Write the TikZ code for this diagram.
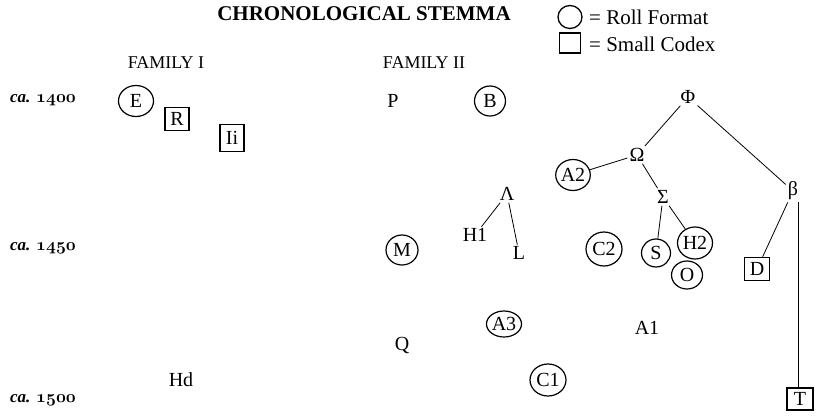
\documentclass[tikz,border=0pt]{standalone}
\usepackage{fontspec}
\setmainfont{Liberation Serif}
\usetikzlibrary{shapes.geometric}
\newcommand\osn[1]{{\fontencoding{OML}\fontfamily{cmm}\fontseries{b}\fontshape{it}\selectfont #1}}
\begin{document}
\begin{tikzpicture}[x=1pt,y=-1pt,
  lab/.style={font=\fontsize{20}{20}\selectfont, inner sep=1.5pt},
  roll/.style={lab, draw, ellipse, line width=1.2pt, inner sep=0pt, minimum width=34pt, minimum height=30pt},
  codex/.style={lab, draw, rectangle, line width=1.3pt, inner sep=0pt, minimum width=24pt, minimum height=23pt},
  greek/.style={lab, inner sep=2pt},
  edge/.style={line width=0.8pt},
  fam/.style={font=\fontsize{18}{18}\selectfont, inner sep=0pt},
  date/.style={font=\fontsize{17}{17}\selectfont\bfseries, inner sep=0pt, anchor=west},
  legtxt/.style={font=\fontsize{21}{21}\selectfont, inner sep=0pt, anchor=west}]
\useasboundingbox (0,0) rectangle (816,416);
% title and legend
\node[font=\fontsize{21}{21}\selectfont\bfseries, inner sep=0pt] (title) at (364,14) {CHRONOLOGICAL STEMMA};
\node[draw, ellipse, line width=1.3pt, minimum width=24pt, minimum height=23pt, inner sep=0pt] (legc) at (570,17) {};
\node[legtxt] (legct) at (589,17) {= Roll Format};
\node[draw, rectangle, line width=1.5pt, minimum width=21pt, minimum height=20pt, inner sep=0pt] (legs) at (570,43) {};
\node[legtxt] (legst) at (589,44) {= Small Codex};
\node[fam] (f1) at (166,63) {FAMILY I};
\node[fam] (f2) at (424,63) {FAMILY II};
% dates
\node[date] (d1) at (10,100) {\textit{ca.} \osn{1400}};
\node[date] (d2) at (10,248) {\textit{ca.} \osn{1450}};
\node[date] (d3) at (10,400) {\textit{ca.} \osn{1500}};
% family I
\node[roll, minimum width=35pt, minimum height=31pt] (E) at (136,101) {E};
\node[codex] (R) at (177,119) {R};
\node[codex, minimum height=27pt] (Ii) at (232,138) {Ii};
\node[lab] (Hd) at (181,380) {Hd};
% family II
\node[lab] (P) at (393,101) {P};
\node[roll, minimum width=31pt] (B) at (490,101) {B};
\node[roll, minimum width=32pt, minimum height=30pt] (M) at (402,250) {M};
\node[lab] (Q) at (402,345) {Q};
\node[greek] (Lam) at (507,194) {Λ};
\node[lab] (H1) at (475,235) {H1};
\node[lab] (L) at (519,253) {L};
\node[roll, minimum width=35pt, minimum height=26pt] (A3) at (504,324) {A3};
\node[roll, minimum width=36pt, minimum height=32pt] (C1) at (548,380) {C1};
\node[roll, minimum width=36pt, minimum height=34pt] (C2) at (604,249) {C2};
\node[lab] (A1) at (647,328) {A1};
\node[greek] (Phi) at (688,97) {Φ};
\node[greek] (Om) at (637,155) {Ω};
\node[roll, minimum width=34pt, minimum height=31pt] (A2) at (573,175) {A2};
\node[greek] (Sig) at (663,197) {Σ};
\node[roll, minimum width=29pt, minimum height=28pt] (S) at (656,253) {S};
\node[roll, minimum width=35pt, minimum height=32pt] (H2) at (695,243) {H2};
\node[roll, minimum width=31pt, minimum height=28pt] (O) at (687,275) {O};
\node[greek] (be) at (793,191) {β};
\node[codex, minimum width=25pt, minimum height=23pt] (D) at (757,269) {D};
\node[codex, minimum width=26pt, minimum height=22pt] (T) at (800,399) {T};
% connectors
\draw[edge] (Phi) -- (Om);
\draw[edge] (Phi) -- (be);
\draw[edge] (Om) -- (A2);
\draw[edge] (Om) -- (Sig);
\draw[edge] (Sig) -- (S);
\draw[edge] (Sig) -- (H2);
\draw[edge] (be) -- (D);
\draw[edge] ([xshift=-2pt]T.north) -- ([xshift=-2pt]T.north |- be.south);
\draw[edge] (Lam) -- (H1);
\draw[edge] (Lam) -- (L);
\end{tikzpicture}
\end{document}
